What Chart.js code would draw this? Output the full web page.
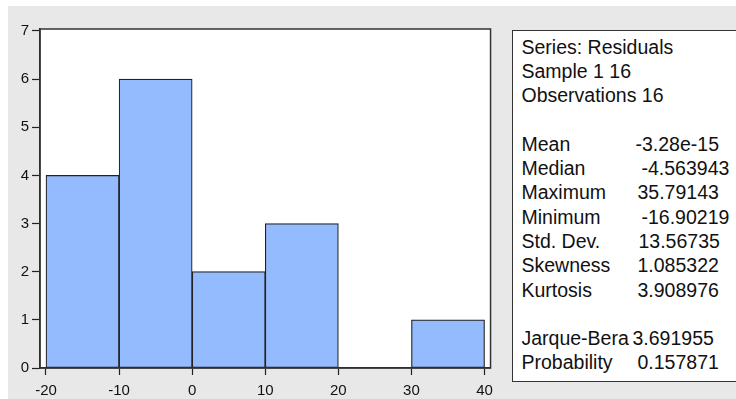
<!DOCTYPE html>
<html>
<head>
<meta charset="utf-8">
<script src="https://cdn.jsdelivr.net/npm/chart.js@4.4.0/dist/chart.umd.min.js"></script>
<style>
  html, body { margin: 0; padding: 0; background: #fff; overflow: hidden; }
  body { width: 736px; height: 399px; position: relative; font-family: "Liberation Sans", Arial, sans-serif; }
  #bg { position: absolute; left: 8px; top: 6px; width: 728px; height: 393px; background: #e8e8e8; }
  #plot { position: absolute; left: 0; top: 0; width: 500px; height: 399px; }
  #stats { position: absolute; left: 512px; top: 30px; width: 240px; height: 350px;
           background: #fff; border: 1.5px solid #333; }
  .row { position: absolute; font-size: 19.5px; color: #111; white-space: nowrap; line-height: 20px; }
</style>
</head>
<body>
<div id="bg"></div>
<div id="plot"><canvas id="hist" width="500" height="399"></canvas></div>
<div id="stats"></div>

<script>
// histogram bins (centre of each 10-wide bin) and counts
const binCenters = [-15, -5, 5, 15, 25, 35];
const binCounts = [4, 6, 2, 3, 0, 1];
const xTicks = [-20, -10, 0, 10, 20, 30, 40];
const yTicks = [0, 1, 2, 3, 4, 5, 6, 7];

// descriptive statistics box
const headerLines = ['Series: Residuals', 'Sample 1 16', 'Observations 16'];
const statNames = ['Mean', 'Median', 'Maximum', 'Minimum', 'Std. Dev.', 'Skewness', 'Kurtosis'];
const statValues = ['-3.28e-15', '-4.563943', '35.79143', '-16.90219', '13.56735', '1.085322', '3.908976'];
const testNames = ['Jarque-Bera', 'Probability'];
const testValues = ['3.691955', '0.157871'];

// build the stats text box
const statsBox = document.getElementById('stats');
const lineStep = 24.3;
const boxLeft = 512, boxTop = 30;
const valueLeft = {   // EViews tab stops, small shifts per value
    '-3.28e-15': 636, '-4.563943': 642, '35.79143': 638, '-16.90219': 642,
    '13.56735': 639, '1.085322': 638, '3.908976': 638, '3.691955': 633, '0.157871': 638
};

function addText(text, x, lineNo) {
    const d = document.createElement('div');
    d.className = 'row';
    d.textContent = text;
    d.style.left = (x - boxLeft - 1.5) + 'px';
    // baseline of first line sits near y=55
    d.style.top = (53 - 16 + lineNo * lineStep - boxTop - 1.5) + 'px';
    statsBox.appendChild(d);
}

headerLines.forEach((t, i) => addText(t, 522, i));
statNames.forEach((t, i) => {
    addText(t, 522, i + 4);
    addText(statValues[i], valueLeft[statValues[i]], i + 4);
});
testNames.forEach((t, i) => {
    addText(t, 522, i + 12);
    addText(testValues[i], valueLeft[testValues[i]], i + 12);
});

// plot frame + white plot area
const framePlugin = {
    id: 'frame',
    beforeDraw(chart) {
        const a = chart.chartArea, ctx = chart.ctx;
        ctx.save();
        ctx.fillStyle = '#fff';
        ctx.fillRect(a.left, a.top, a.right - a.left, a.bottom - a.top);
        ctx.restore();
    },
    afterDraw(chart) {
        const a = chart.chartArea, ctx = chart.ctx;
        ctx.save();
        ctx.strokeStyle = '#333';
        ctx.lineWidth = 1.5;
        ctx.strokeRect(a.left, a.top, a.right - a.left, a.bottom - a.top);
        ctx.restore();
    }
};

const tickFont = { family: '"Liberation Sans", Arial, sans-serif', size: 15 };

new Chart(document.getElementById('hist'), {
    type: 'bar',
    data: {
        datasets: [{
            data: binCenters.map((c, i) => ({ x: c, y: binCounts[i] })),
            backgroundColor: '#94bbfe',
            borderColor: '#222',
            borderWidth: 1.2,
            borderSkipped: false,
            barPercentage: 1,
            categoryPercentage: 1
        }]
    },
    options: {
        responsive: false,
        animation: false,
        devicePixelRatio: 1,
        layout: { padding: { top: 29, right: 8, left: 0, bottom: 0 } },
        plugins: { legend: { display: false }, tooltip: { enabled: false } },
        scales: {
            x: {
                type: 'linear',
                offset: false,
                min: -20.82,
                max: 40.82,
                afterFit: s => { s.height = 31; },
                afterBuildTicks: s => { s.ticks = xTicks.map(v => ({ value: v })); },
                grid: { offset: false, drawOnChartArea: false, tickLength: 7, tickColor: '#222', tickWidth: 1.2 },
                border: { color: '#222', width: 1.5 },
                ticks: { color: '#111', font: tickFont, padding: 7, maxRotation: 0, autoSkip: false }
            },
            y: {
                min: 0,
                max: 7.04,
                afterFit: s => { s.width = 40; },
                afterBuildTicks: s => { s.ticks = yTicks.map(v => ({ value: v })); },
                grid: { drawOnChartArea: false, tickLength: 8, tickColor: '#222', tickWidth: 1.2 },
                border: { color: '#222', width: 1.5 },
                ticks: { color: '#111', font: tickFont, padding: 3, autoSkip: false }
            }
        }
    },
    plugins: [framePlugin]
});
</script>
</body>
</html>
